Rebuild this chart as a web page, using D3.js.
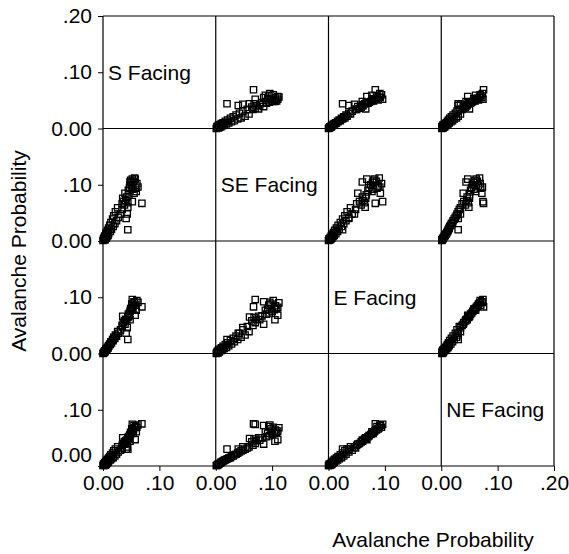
<!DOCTYPE html>
<html>
<head>
<meta charset="utf-8">
<script src="https://cdn.jsdelivr.net/npm/d3@7"></script>
<style>
  body { margin: 0; background: #fff; }
  svg { display: block; font-family: "Liberation Sans", Arial, sans-serif; }
  .axis text { font-size: 21px; fill: #000; }
  .axis line, .axis path { stroke: #000; }
</style>
</head>
<body>
<script>
// aspect labels, one per diagonal cell
const aspects = ['S Facing', 'SE Facing', 'E Facing', 'NE Facing'];

// avalanche probability per observation, one array per aspect
const sFacing = [0.000, 0.003, 0.001, 0.004, 0.002, 0.006, 0.003, 0.007, 0.005, 0.009,
  0.006, 0.010, 0.008, 0.013, 0.010, 0.015, 0.012, 0.018, 0.014, 0.021,
  0.017, 0.024, 0.019, 0.027, 0.022, 0.031, 0.026, 0.034, 0.044, 0.041,
  0.034, 0.036, 0.038, 0.040, 0.042, 0.044, 0.046, 0.045, 0.047, 0.048,
  0.050, 0.049, 0.052, 0.054, 0.051, 0.056, 0.058, 0.055, 0.060, 0.069,
  0.062, 0.053, 0.057, 0.048, 0.052, 0.044, 0.043, 0.039, 0.035, 0.059];
const seFacing = [0.001, 0.002, 0.004, 0.003, 0.006, 0.005, 0.009, 0.008, 0.012, 0.010,
  0.015, 0.013, 0.019, 0.017, 0.023, 0.021, 0.028, 0.026, 0.033, 0.031,
  0.039, 0.036, 0.045, 0.042, 0.052, 0.048, 0.059, 0.056, 0.020, 0.040,
  0.066, 0.070, 0.064, 0.072, 0.078, 0.068, 0.082, 0.090, 0.095, 0.100,
  0.104, 0.108, 0.110, 0.106, 0.098, 0.112, 0.094, 0.085, 0.102, 0.067,
  0.096, 0.092, 0.110, 0.105, 0.070, 0.060, 0.048, 0.085, 0.076, 0.088];
const eFacing = [0.000, 0.002, 0.001, 0.004, 0.003, 0.006, 0.005, 0.008, 0.007, 0.010,
  0.009, 0.013, 0.011, 0.016, 0.014, 0.019, 0.017, 0.023, 0.021, 0.027,
  0.025, 0.031, 0.029, 0.036, 0.033, 0.042, 0.039, 0.048, 0.025, 0.036,
  0.050, 0.055, 0.058, 0.061, 0.060, 0.064, 0.067, 0.070, 0.072, 0.075,
  0.078, 0.080, 0.082, 0.085, 0.088, 0.090, 0.086, 0.092, 0.094, 0.083,
  0.091, 0.079, 0.068, 0.060, 0.096, 0.065, 0.046, 0.052, 0.066, 0.077];
const neFacing = [0.001, 0.001, 0.003, 0.002, 0.004, 0.003, 0.006, 0.005, 0.008, 0.007,
  0.010, 0.009, 0.012, 0.011, 0.014, 0.013, 0.017, 0.015, 0.020, 0.018,
  0.023, 0.021, 0.027, 0.025, 0.030, 0.028, 0.034, 0.032, 0.030, 0.030,
  0.037, 0.040, 0.043, 0.045, 0.046, 0.048, 0.050, 0.052, 0.054, 0.056,
  0.058, 0.060, 0.062, 0.064, 0.066, 0.068, 0.070, 0.072, 0.069, 0.075,
  0.073, 0.058, 0.047, 0.044, 0.074, 0.049, 0.034, 0.039, 0.050, 0.061];

const series = [sFacing, seFacing, eFacing, neFacing];
const tickValues = [0, 0.1];
const axisTitle = 'Avalanche Probability';

const width = 569, height = 554;
const margin = {left: 103, top: 16, right: 15, bottom: 88};
const n = aspects.length;
const cw = (width - margin.left - margin.right) / n;
const ch = (height - margin.top - margin.bottom) / n;

const fmt = v => v === 0 ? '0.00' : d3.format('.2f')(v).replace(/^0/, '');

const svg = d3.select('body').append('svg')
  .attr('width', width)
  .attr('height', height);

const xs = d3.range(n).map(j => d3.scaleLinear().domain([0, 0.2])
  .range([margin.left + j * cw, margin.left + (j + 1) * cw]));
const ys = d3.range(n).map(i => d3.scaleLinear().domain([0, 0.2])
  .range([margin.top + (i + 1) * ch, margin.top + i * ch]));

// points: row i plots series i on y, column j plots series j on x
const sym = d3.symbol().type(d3.symbolSquare).size(40);
for (let i = 0; i < n; i++) {
  for (let j = 0; j < n; j++) {
    if (i === j) continue;
    const pts = series[i].map((v, k) => ({x: series[j][k], y: v}));
    svg.append('g')
      .selectAll('path')
      .data(pts)
      .join('path')
        .attr('d', sym)
        .attr('transform', d => `translate(${xs[j](d.x)},${ys[i](d.y)})`)
        .attr('fill', 'none')
        .attr('stroke', '#000')
        .attr('stroke-width', 1.3);
  }
}

// diagonal labels
aspects.forEach((a, i) => {
  svg.append('text')
    .attr('x', xs[i](0) + 5)
    .attr('y', ys[i](0.1))
    .attr('dy', '0.35em')
    .attr('font-size', 21)
    .text(a);
});

// grid frame
const grid = svg.append('g').attr('stroke', '#000').attr('stroke-width', 1.2);
d3.range(n + 1).forEach(k => {
  grid.append('line')
    .attr('x1', margin.left).attr('x2', margin.left + n * cw)
    .attr('y1', margin.top + k * ch).attr('y2', margin.top + k * ch);
  grid.append('line')
    .attr('y1', margin.top).attr('y2', margin.top + n * ch)
    .attr('x1', margin.left + k * cw).attr('x2', margin.left + k * cw);
});

// left axes
ys.forEach((y, i) => {
  const g = svg.append('g')
    .attr('class', 'axis')
    .attr('transform', `translate(${margin.left},0)`)
    .call(d3.axisLeft(y)
      .tickValues(i === 0 ? tickValues.concat([0.2]) : tickValues)
      .tickFormat(fmt)
      .tickSize(5).tickSizeOuter(0).tickPadding(6));
  g.select('.domain').remove();
  if (i === n - 1) {
    g.selectAll('.tick').filter(d => d === 0).select('text').attr('y', -11);
  }
});

// bottom axes
xs.forEach((x, j) => {
  const g = svg.append('g')
    .attr('class', 'axis')
    .attr('transform', `translate(0,${margin.top + n * ch})`)
    .call(d3.axisBottom(x)
      .tickValues(j === n - 1 ? tickValues.concat([0.2]) : tickValues)
      .tickFormat(fmt)
      .tickSize(5).tickSizeOuter(0).tickPadding(4));
  g.select('.domain').remove();
});

// axis titles
svg.append('text')
  .attr('transform', 'translate(19,251) rotate(-90)')
  .attr('text-anchor', 'middle')
  .attr('dy', '0.35em')
  .attr('font-size', 21)
  .text(axisTitle);

svg.append('text')
  .attr('x', 433)
  .attr('y', 547)
  .attr('text-anchor', 'middle')
  .attr('font-size', 21)
  .text(axisTitle);
</script>
</body>
</html>
